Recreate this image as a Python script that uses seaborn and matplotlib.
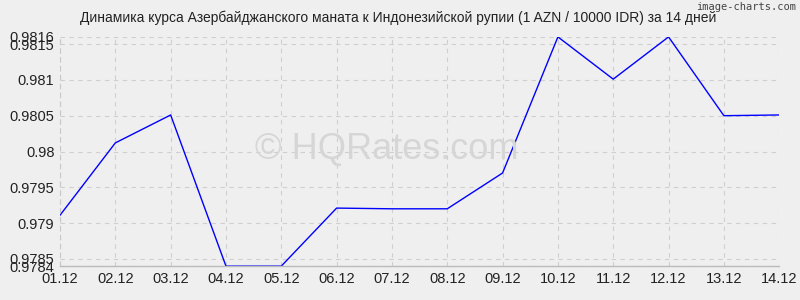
import matplotlib
matplotlib.use("Agg")
import matplotlib.pyplot as plt
import seaborn as sns
import pandas as pd

dates = ["01.12", "02.12", "03.12", "04.12", "05.12", "06.12", "07.12",
         "08.12", "09.12", "10.12", "11.12", "12.12", "13.12", "14.12"]
rates = [0.97911, 0.98012, 0.98051, 0.9784, 0.9784, 0.97921, 0.9792,
         0.97920, 0.97970, 0.9816, 0.98101, 0.9816, 0.98050, 0.98051]
yticks = [0.9784, 0.9785, 0.979, 0.9795, 0.98, 0.9805, 0.981, 0.9815, 0.9816]
ytick_labels = ["0.9784", "0.9785", "0.979", "0.9795", "0.98", "0.9805", "0.981", "0.9815", "0.9816"]

df = pd.DataFrame({"pos": range(len(dates)), "rate": rates})

sns.set_style("white")
plt.rcParams['font.family'] = ['Liberation Sans', 'DejaVu Sans']
bg = "#efefef"
fig = plt.figure(figsize=(8, 3), dpi=100, facecolor=bg)
ax = fig.add_axes([0.075, 0.113, 0.899, 0.764])
ax.set_facecolor(bg)

sns.lineplot(data=df, x="pos", y="rate", ax=ax, color="#0000ff", linewidth=1)

ax.set_xlim(0, len(dates) - 1)
ax.set_ylim(yticks[0], yticks[-1])
ax.set_xticks(range(len(dates)))
ax.set_xticklabels(dates)
ax.set_yticks(yticks)
ax.set_yticklabels(ytick_labels)
ax.tick_params(axis="both", length=0, labelsize=10.5, colors="#222222", pad=4)
ax.set_xlabel("")
ax.set_ylabel("")
ax.grid(True, color="#cfcfcf", linestyle=(0, (4, 4)), linewidth=0.8)
for side in ["top", "right"]:
    ax.spines[side].set_visible(False)
ax.spines["left"].set_color("#c8c8c8")
ax.spines["left"].set_linestyle((0, (4, 4)))
ax.spines["bottom"].set_color("#bbbbbb")
ax.spines["bottom"].set_linewidth(1)

fig.text(0.4975, 0.94, "Динамика курса Азербайджанского маната к Индонезийской рупии (1 AZN / 10000 IDR) за 14 дней",
         ha="center", va="center", fontsize=10, color="#222222")
fig.text(0.995, 0.975, "image-charts.com", ha="right", va="center", fontsize=7.5,
         family="DejaVu Sans Mono", color="#444444")
fig.text(0.484, 0.5, "© HQRates.com", ha="center", va="center", fontsize=26,
         color="#d6d6d6", zorder=0)

fig.savefig("out.png", dpi=100, facecolor=bg)
